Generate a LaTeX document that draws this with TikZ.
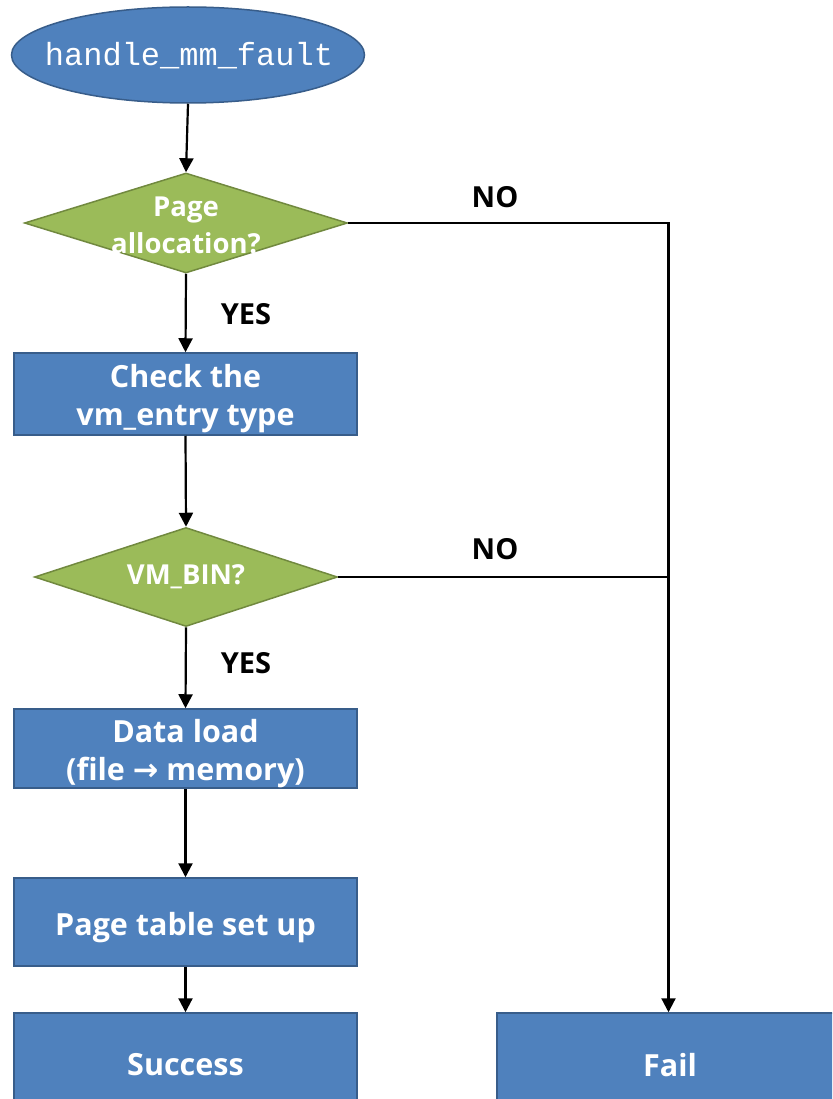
\documentclass[tikz,border=0pt]{standalone}
\usepackage{fontspec}
\setmainfont{Open Sans}
\setmonofont{Liberation Mono}
\usetikzlibrary{shapes.geometric,arrows.meta}
\definecolor{boxblue}{HTML}{4F81BD}
\definecolor{boxedge}{HTML}{385D8A}
\definecolor{decgreen}{HTML}{9BBB59}
\definecolor{decedge}{HTML}{71893F}
\tikzset{
  procbox/.style={draw=boxedge, fill=boxblue, line width=1.5pt, minimum width=343pt, inner sep=0pt},
  boxtext/.style={text=white, font=\fontsize{30.5}{38}\selectfont\bfseries, align=center, inner sep=0pt},
  decision/.style={draw=decedge, fill=decgreen, line width=1.5pt, diamond, inner sep=0pt},
  dectext/.style={text=white, font=\fontsize{27.5}{37}\selectfont\bfseries, align=center},
  startnode/.style={draw=boxedge, fill=boxblue, line width=1.5pt, ellipse, inner sep=0pt,
    minimum width=353pt, minimum height=96pt},
  starttext/.style={text=white, font=\fontsize{32}{36}\selectfont\ttfamily},
  branch/.style={font=\fontsize{29}{32}\selectfont\bfseries, text=black},
  flow/.style={line width=2.2pt, -{Triangle[length=14pt,width=14pt]}},
  joinline/.style={line width=2.2pt},
}
\begin{document}
\begin{tikzpicture}[x=1pt, y=-1pt]
\useasboundingbox (0,0) rectangle (832,1099);
\clip (0,0) rectangle (832,1099);

% start of the handler
\node[startnode] (start) at (188,55) {};
\node[starttext] (startt) at (189,56) {handle\_mm\_fault};

% first decision
\node[decision, minimum width=323pt, minimum height=100pt] (d1) at (186,223) {};
\node[dectext] (d1t) at (186,225) {Page\\allocation?};

% vm_entry check
\node[procbox, minimum height=82pt] (chk) at (185.5,394) {};
\node[boxtext] (chkt) at (185.5,399) {Check the\\vm\_entry type};

% second decision
\node[decision, minimum width=303pt, minimum height=99pt] (d2) at (186,577) {};
\node[dectext] (d2t) at (186,577) {VM\_BIN?};

% loading and mapping
\node[procbox, minimum height=79pt] (load) at (185.5,748.5) {};
\node[boxtext] (loadt) at (185.5,754) {Data load\\(file {\fontspec{DejaVu Sans}\bfseries →} memory)};
\node[procbox, minimum height=88pt] (ptab) at (185.5,922) {};
\node[boxtext] (ptabt) at (185.5,928) {Page table set up};

% outcomes
\node[procbox, minimum height=100pt] (ok) at (185.5,1063) {};
\node[boxtext] (okt) at (185.5,1065) {Success};
\node[procbox, minimum height=100pt] (fail) at (668.5,1063) {};
\node[boxtext] (failt) at (670,1065) {Fail};

% connectors
\draw[flow] (start.south) -- (d1.north);
\draw[flow] (d1.south) -- (chk.north);
\draw[flow] (chk.south) -- (d2.north);
\draw[flow] (d2.south) -- (load.north);
\draw[flow] (load.south) -- (ptab.north);
\draw[flow] (ptab.south) -- (ok.north);
\draw[flow] (d1.east) -| (fail.north);
\draw[joinline] (d2.east) -- (d2.east -| fail.north);

% branch labels
\node[branch] (no1) at (495,197) {NO};
\node[branch] (yes1) at (246,314) {YES};
\node[branch] (no2) at (495,549) {NO};
\node[branch] (yes2) at (246,663) {YES};
\end{tikzpicture}
\end{document}
